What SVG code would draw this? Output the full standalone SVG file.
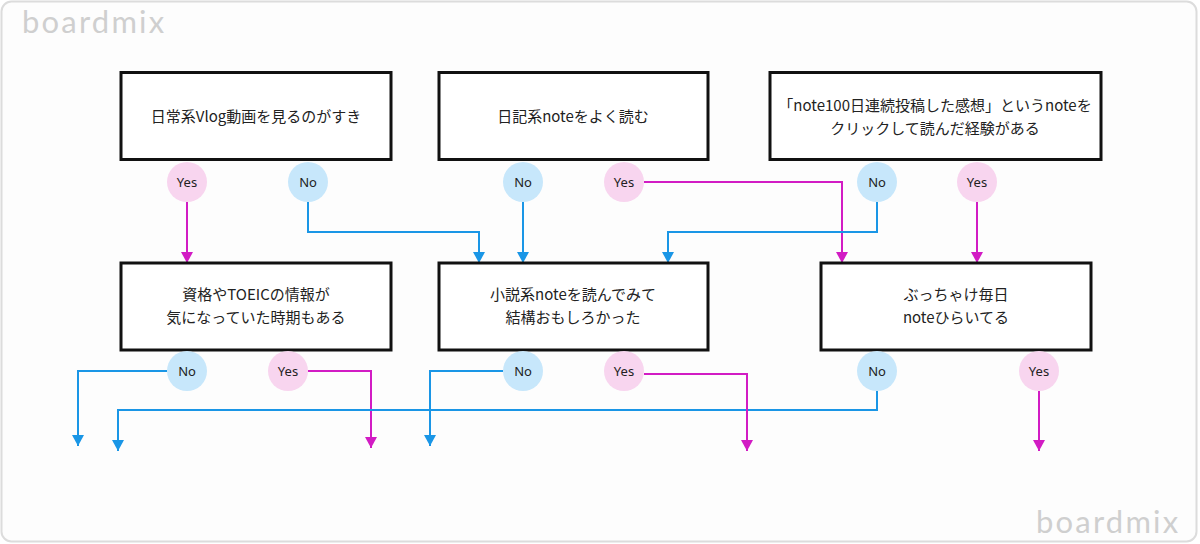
<svg xmlns="http://www.w3.org/2000/svg" width="1200" height="544" viewBox="0 0 1200 544">
<defs>
<marker id="ab" markerWidth="12" markerHeight="12" refX="11" refY="6" orient="auto" markerUnits="userSpaceOnUse"><path d="M0,0 L11,6 L0,12 Z" fill="#1a96e6"/></marker>
<marker id="ap" markerWidth="12" markerHeight="12" refX="11" refY="6" orient="auto" markerUnits="userSpaceOnUse"><path d="M0,0 L11,6 L0,12 Z" fill="#d21cc4"/></marker>
</defs>
<style>
.box{fill:#fff;stroke:#111;stroke-width:3}
.t{font-family:"Noto Sans CJK JP","Noto Sans",sans-serif;font-size:15px;fill:#222;text-anchor:middle}
.yes{fill:#f8d5ef}
.no{fill:#c7e7fb}
.cl{font-family:"Noto Sans","Noto Sans CJK JP",sans-serif;font-size:13px;fill:#222;text-anchor:middle}
.b{fill:none;stroke:#1a96e6;stroke-width:2;marker-end:url(#ab)}
.p{fill:none;stroke:#d21cc4;stroke-width:2;marker-end:url(#ap)}
.wm{font-family:Lato,"Noto Sans",sans-serif;font-size:31px;fill:#cfcfcf;letter-spacing:2.2px}
</style>
<rect x="1.5" y="1.5" width="1195" height="540" rx="10" fill="#fdfdfd" stroke="#dcdcdc" stroke-width="2"/>
<text class="wm" x="22" y="33">boardmix</text>
<text class="wm" x="1036" y="533">boardmix</text>

<g id="connectors">
<path class="p" d="M187,202 V263"/>
<path class="b" d="M308,202 V232 H479 V263"/>
<path class="b" d="M523,202 V263"/>
<path class="p" d="M644,182 H842 V263"/>
<path class="b" d="M877,202 V232 H668 V263"/>
<path class="p" d="M977,202 V263"/>
<path class="b" d="M167,371 H78 V446"/>
<path class="p" d="M308,371 H371 V448"/>
<path class="b" d="M877,391 V410 H118 V451"/>
<path class="b" d="M503,371 H430 V446"/>
<path class="p" d="M644,374 H747 V451"/>
<path class="p" d="M1039,391 V451"/>
</g>

<g id="n1"><rect class="box" x="121" y="72.5" width="270" height="87"/><text class="t" x="256" y="122">日常系Vlog動画を見るのがすき</text></g>
<g id="n2"><rect class="box" x="439" y="72.5" width="269" height="87"/><text class="t" x="573" y="122">日記系noteをよく読む</text></g>
<g id="n3"><rect class="box" x="770" y="72.5" width="331" height="87"/><text class="t" x="935" y="111">「note100日連続投稿した感想」というnoteを</text><text class="t" x="935" y="134">クリックして読んだ経験がある</text></g>
<g id="n4"><rect class="box" x="121" y="263" width="270" height="87"/><text class="t" x="256" y="300">資格やTOEICの情報が</text><text class="t" x="256" y="323">気になっていた時期もある</text></g>
<g id="n5"><rect class="box" x="439" y="263" width="269" height="87"/><text class="t" x="573" y="300">小説系noteを読んでみて</text><text class="t" x="573" y="323">結構おもしろかった</text></g>
<g id="n6"><rect class="box" x="821" y="263" width="270" height="87"/><text class="t" x="956" y="300">ぶっちゃけ毎日</text><text class="t" x="956" y="323">noteひらいてる</text></g>

<g id="c1y"><circle class="yes" cx="187" cy="182" r="20"/><text class="cl" x="187" y="187">Yes</text></g>
<g id="c1n"><circle class="no" cx="308" cy="182" r="20"/><text class="cl" x="308" y="187">No</text></g>
<g id="c2n"><circle class="no" cx="523" cy="182" r="20"/><text class="cl" x="523" y="187">No</text></g>
<g id="c2y"><circle class="yes" cx="624" cy="182" r="20"/><text class="cl" x="624" y="187">Yes</text></g>
<g id="c3n"><circle class="no" cx="877" cy="182" r="20"/><text class="cl" x="877" y="187">No</text></g>
<g id="c3y"><circle class="yes" cx="977" cy="182" r="20"/><text class="cl" x="977" y="187">Yes</text></g>
<g id="c4n"><circle class="no" cx="187" cy="371" r="20"/><text class="cl" x="187" y="376">No</text></g>
<g id="c4y"><circle class="yes" cx="288" cy="371" r="20"/><text class="cl" x="288" y="376">Yes</text></g>
<g id="c5n"><circle class="no" cx="523" cy="371" r="20"/><text class="cl" x="523" y="376">No</text></g>
<g id="c5y"><circle class="yes" cx="624" cy="371" r="20"/><text class="cl" x="624" y="376">Yes</text></g>
<g id="c6n"><circle class="no" cx="877" cy="371" r="20"/><text class="cl" x="877" y="376">No</text></g>
<g id="c6y"><circle class="yes" cx="1039" cy="371" r="20"/><text class="cl" x="1039" y="376">Yes</text></g>
</svg>
